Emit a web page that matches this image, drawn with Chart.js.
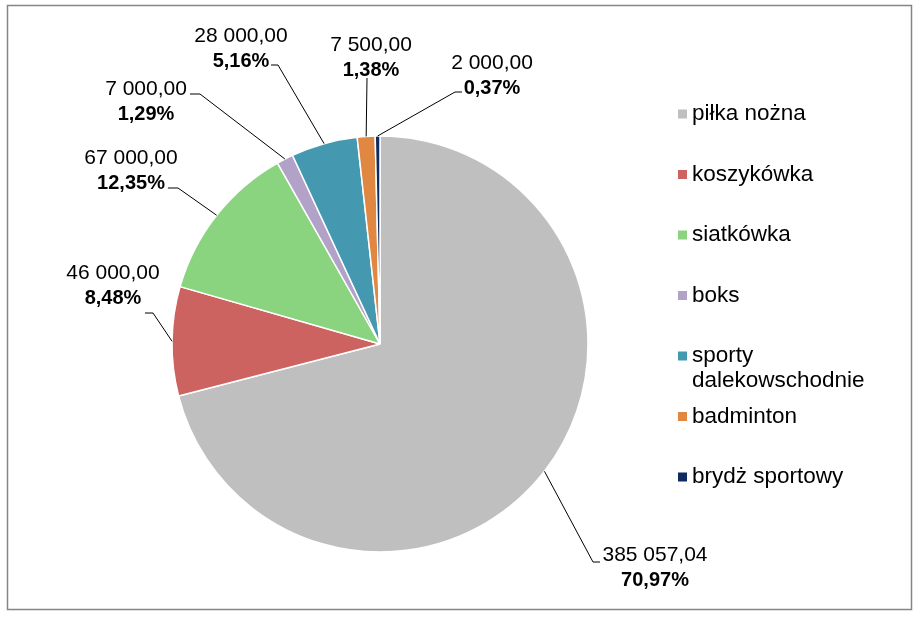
<!DOCTYPE html>
<html>
<head>
<meta charset="utf-8">
<script src="https://cdn.jsdelivr.net/npm/chart.js@4.4.1/dist/chart.umd.min.js"></script>
<style>
  html, body { margin: 0; padding: 0; background: #ffffff; }
  #wrap { width: 920px; height: 621px; position: relative; }
</style>
</head>
<body>
<div id="wrap"><canvas id="c"></canvas></div>
<script>
// ---- data ----
const categories = ["piłka nożna", "koszykówka", "siatkówka", "boks", "sporty dalekowschodnie", "badminton", "brydż sportowy"];
const amounts = [385057.04, 46000, 67000, 7000, 28000, 7500, 2000];
const sliceColors = ["#BFBFBF", "#CD6361", "#8AD47F", "#B3A2C7", "#4499B1", "#E08842", "#0F2B5F"];

// ---- label layout (text positions, leader elbow and end) ----
const labelText = [[655, 555], [113, 273], [131, 158], [146, 89], [241, 36], [371, 45], [492, 63]];
const leaderElbow = [[593, 562], [153, 313], [178, 188], [200, 94], [278, 65], [367, 78], [455, 92]];
const leaderEnd = [[600, 562], [145, 313], [168, 188], [190, 94], [271, 65], [367, 78], [462, 92]];

const FONT = '"Liberation Sans", Arial, sans-serif';

function fmtNum(v) {
  const parts = v.toFixed(2).split('.');
  const int = parts[0].replace(/\B(?=(\d{3})+(?!\d))/g, ' ');
  return int + ',' + parts[1];
}
function fmtPct(v, total) {
  return (v / total * 100).toFixed(2).replace('.', ',') + '%';
}

const framePlugin = {
  id: 'frame',
  beforeDraw(chart) {
    const ctx = chart.ctx;
    ctx.save();
    ctx.fillStyle = '#ffffff';
    ctx.fillRect(0, 0, chart.width, chart.height);
    ctx.strokeStyle = '#858585';
    ctx.lineWidth = 1.5;
    ctx.strokeRect(7.5, 5.5, 904, 604);
    ctx.restore();
  }
};

const labelPlugin = {
  id: 'pieLabels',
  afterDatasetsDraw(chart) {
    const ctx = chart.ctx;
    const meta = chart.getDatasetMeta(0);
    const data = chart.data.datasets[0].data;
    const total = data.reduce((a, b) => a + b, 0);
    ctx.save();
    meta.data.forEach((arc, i) => {
      const p = arc.getProps(['x', 'y', 'startAngle', 'endAngle', 'outerRadius'], true);
      const mid = (p.startAngle + p.endAngle) / 2;
      const ax = p.x + Math.cos(mid) * p.outerRadius;
      const ay = p.y + Math.sin(mid) * p.outerRadius;
      // leader line
      ctx.strokeStyle = '#000000';
      ctx.lineWidth = 1;
      ctx.beginPath();
      ctx.moveTo(ax, ay);
      ctx.lineTo(leaderElbow[i][0], leaderElbow[i][1]);
      ctx.lineTo(leaderEnd[i][0], leaderEnd[i][1]);
      ctx.stroke();
      // text
      ctx.fillStyle = '#000000';
      ctx.textAlign = 'center';
      ctx.textBaseline = 'middle';
      ctx.font = '21px ' + FONT;
      ctx.fillText(fmtNum(data[i]), labelText[i][0], labelText[i][1]);
      ctx.font = 'bold 20px ' + FONT;
      ctx.fillText(fmtPct(data[i], total), labelText[i][0], labelText[i][1] + 25);
    });
    ctx.restore();
  }
};

const legendPlugin = {
  id: 'sideLegend',
  afterDraw(chart) {
    const ctx = chart.ctx;
    const labels = chart.data.labels;
    const colors = chart.data.datasets[0].backgroundColor;
    ctx.save();
    ctx.font = '22.5px ' + FONT;
    ctx.textAlign = 'left';
    ctx.textBaseline = 'middle';
    const maxW = 215;
    labels.forEach((lab, i) => {
      const y = 114 + i * 60.5;
      ctx.fillStyle = colors[i];
      ctx.fillRect(678, y - 4.5, 9, 9);
      ctx.fillStyle = '#000000';
      // wrap
      const words = lab.split(' ');
      const lines = [];
      let cur = '';
      words.forEach(w => {
        const t = cur ? cur + ' ' + w : w;
        if (ctx.measureText(t).width > maxW && cur) { lines.push(cur); cur = w; }
        else cur = t;
      });
      lines.push(cur);
      lines.forEach((ln, k) => ctx.fillText(ln, 692, y + k * 25));
    });
    ctx.restore();
  }
};

new Chart(document.getElementById('c'), {
  type: 'pie',
  data: {
    labels: categories,
    datasets: [{
      data: amounts,
      backgroundColor: sliceColors,
      borderColor: '#ffffff',
      borderWidth: 1.5
    }]
  },
  options: {
    responsive: true,
    maintainAspectRatio: false,
    animation: false,
    radius: 208,
    layout: { padding: { left: 160, right: 320, top: 126, bottom: 59 } },
    plugins: {
      legend: { display: false },
      tooltip: { enabled: false }
    }
  },
  plugins: [framePlugin, labelPlugin, legendPlugin]
});
</script>
</body>
</html>
